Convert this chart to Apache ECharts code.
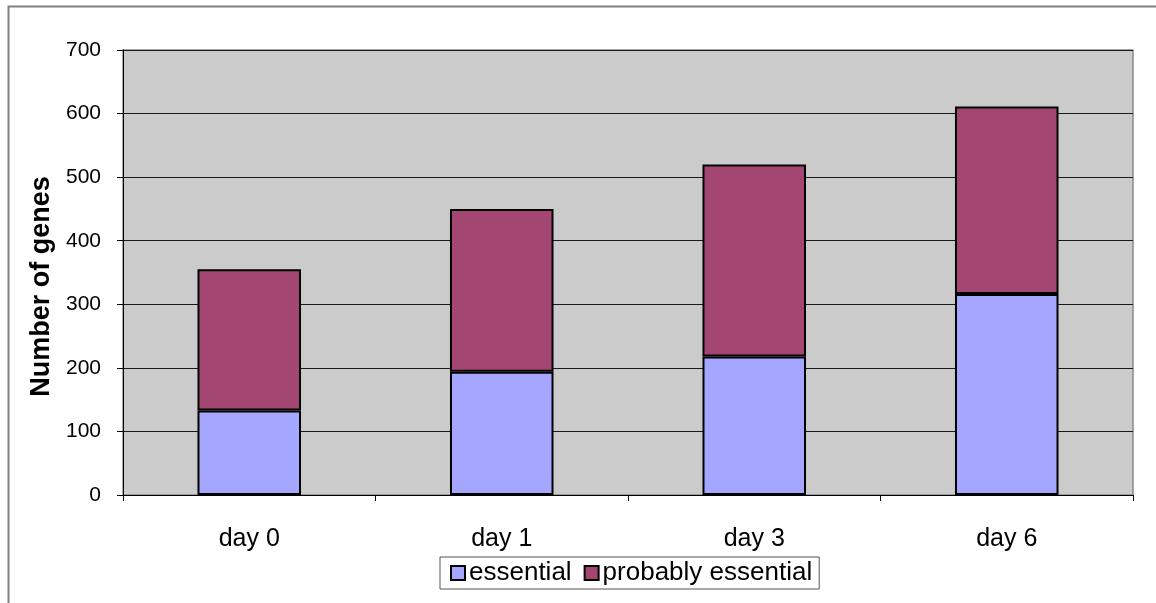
<!DOCTYPE html>
<html>
<head>
<meta charset="utf-8">
<script src="https://cdn.jsdelivr.net/npm/echarts@6/dist/echarts.min.js"></script>
<style>
  html, body { margin: 0; padding: 0; background: #fff; }
  #chart { width: 1156px; height: 603px; }
</style>
</head>
<body>
<div id="chart"></div>
<script>
// Gene counts per time point
const categories = ['day 0', 'day 1', 'day 3', 'day 6'];
const essential = [133, 194, 218, 316];
const probablyEssential = [222, 256, 302, 295];
const yTicks = { min: 0, max: 700, interval: 100 };

const FONT = 'Liberation Sans, Arial, sans-serif';
const chart = echarts.init(document.getElementById('chart'), null, { renderer: 'canvas' });

chart.setOption({
  backgroundColor: '#ffffff',
  animation: false,
  grid: {
    left: 123, right: 23, top: 50, bottom: 108,
    show: true, backgroundColor: '#cbcbcb',
    borderColor: '#8a8a8a', borderWidth: 1.5
  },
  graphic: [{
    type: 'rect', left: 6, top: 4, z: 0,
    shape: { width: 1170, height: 620 },
    style: { fill: 'none', stroke: '#808080', lineWidth: 2 }
  }],
  legend: {
    left: 440, top: 557,
    padding: [3, 7, 3, 10],
    itemGap: 12, itemWidth: 14, itemHeight: 14,
    borderColor: '#555', borderWidth: 1,
    icon: 'rect',
    textStyle: { fontFamily: FONT, fontSize: 26, color: '#000', padding: [0, 0, 0, -1] },
    data: ['essential', 'probably essential']
  },
  xAxis: {
    type: 'category', data: categories,
    axisLine: { lineStyle: { color: '#000', width: 1 } },
    axisTick: { show: true, length: 6, lineStyle: { color: '#000' } },
    axisLabel: { fontFamily: FONT, fontSize: 25, color: '#000', margin: 32 }
  },
  yAxis: {
    type: 'value', min: yTicks.min, max: yTicks.max, interval: yTicks.interval,
    name: 'Number of genes', nameLocation: 'middle', nameGap: 67,
    nameTextStyle: {
      fontFamily: FONT, fontSize: 27, fontWeight: 'bold', color: '#000',
      padding: [0, 28, 0, 0]
    },
    axisLine: { show: true, lineStyle: { color: '#000', width: 1 } },
    axisTick: { show: true, length: 6, lineStyle: { color: '#000' } },
    axisLabel: { fontFamily: FONT, fontSize: 21, color: '#000', margin: 22 },
    splitLine: { lineStyle: { color: '#1a1a1a', width: 1 } }
  },
  series: [{
    name: 'essential', type: 'bar', stack: 'genes', barWidth: '41%',
    data: essential,
    itemStyle: { color: '#a5a6ff', borderColor: '#000', borderWidth: 2 }
  }, {
    name: 'probably essential', type: 'bar', stack: 'genes', barWidth: '41%',
    data: probablyEssential,
    itemStyle: { color: '#a44672', borderColor: '#000', borderWidth: 2 }
  }]
});
</script>
</body>
</html>
